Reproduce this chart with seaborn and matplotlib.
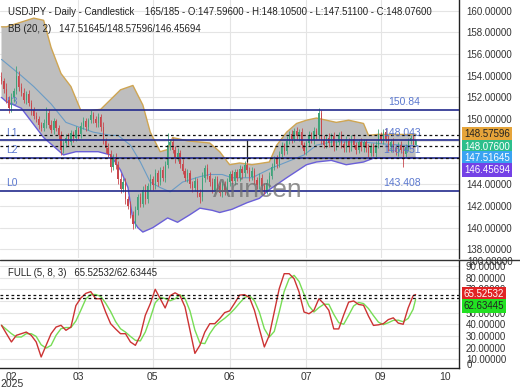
import numpy as np
import pandas as pd
import matplotlib
matplotlib.use("Agg")
import matplotlib.pyplot as plt
from matplotlib.lines import Line2D
import seaborn as sns

sns.set_style("white")
plt.rcParams['font.family'] = ['Liberation Sans', 'DejaVu Sans']

# ---------------- data ----------------
first_open = 153.9
closes = [
 153.5,152.8,151.8,151.0,152.0,152.6,154.0,153.0,152.4,151.8,
 152.3,151.5,150.8,150.3,150.0,149.5,149.2,149.6,150.6,149.5,
 149.0,149.8,149.2,148.5,147.2,147.8,148.3,147.9,148.7,148.3,
 149.0,148.6,149.4,149.8,149.3,149.9,150.4,150.0,149.6,150.2,
 149.3,148.0,147.3,146.8,145.6,146.5,145.8,144.5,143.6,144.2,
 142.6,142.0,141.2,140.3,141.6,142.8,142.2,143.5,142.6,143.8,
 144.5,143.9,145.0,144.2,145.3,144.6,145.8,147.6,147.9,147.2,
 146.4,146.9,145.9,145.2,144.6,145.0,144.0,143.7,144.3,143.2,
 142.8,144.6,145.5,144.8,144.2,143.5,144.5,143.8,143.2,144.0,
 143.3,144.2,144.9,144.3,145.1,144.6,145.4,145.0,145.8,145.3,
 144.7,145.2,144.4,143.9,144.6,143.8,143.4,144.1,144.8,145.6,
 146.3,145.9,146.8,147.5,147.1,148.0,148.6,148.2,148.9,148.4,
 148.8,147.6,147.1,147.8,148.5,148.1,148.9,148.5,150.6,148.1,
 147.6,148.3,147.8,148.4,147.5,147.9,148.5,147.7,147.3,148.0,
 147.4,148.2,147.6,147.2,147.9,147.4,147.9,147.3,146.9,147.5,
 146.9,147.6,148.5,148.1,148.8,148.2,147.4,147.9,147.3,147.0,
 147.6,147.2,146.8,147.4,148.0,148.3,147.596,148.076]
up_wick = [
 0.4,0.3,0.5,0.3,0.4,0.3,0.9,0.4,0.3,0.5,
 0.3,0.4,0.3,0.3,0.4,0.3,0.2,0.4,0.5,0.3,
 0.4,0.3,0.2,0.3,0.4,0.3,0.3,0.4,0.3,0.2,
 0.4,0.3,0.3,0.4,0.3,0.2,0.4,0.3,0.3,0.4,
 0.3,0.4,0.3,0.5,0.4,0.3,0.4,0.3,0.5,0.4,
 0.4,0.3,0.5,0.3,0.4,0.3,0.4,0.3,0.5,0.3,
 0.4,0.3,0.4,0.3,0.3,0.4,0.3,1.1,0.3,0.4,
 0.3,0.4,0.3,0.4,0.3,0.4,0.3,0.3,0.4,0.3,
 0.4,0.5,0.3,0.4,0.3,0.4,0.3,0.3,0.4,0.3,
 0.3,0.4,0.3,0.4,0.3,0.3,0.4,0.3,0.3,0.4,
 0.3,0.4,0.3,0.3,0.4,0.3,0.3,0.4,0.3,0.4,
 0.3,0.4,0.3,0.4,0.3,0.4,0.3,0.4,0.3,0.4,
 0.3,0.4,0.3,0.3,0.4,0.3,0.4,0.3,0.4,0.2,
 0.4,0.3,0.4,0.3,0.4,0.3,0.3,0.4,0.3,0.4,
 0.3,0.3,0.4,0.3,0.3,0.4,0.3,0.3,0.4,0.3,
 0.3,0.4,0.6,0.3,0.3,0.4,0.3,0.3,0.4,0.3,
 0.3,0.4,0.3,0.3,0.3,0.2,0.3,0.03]
down_wick = [
 0.3,0.4,0.3,0.4,0.3,0.4,0.3,0.4,0.3,0.3,
 0.4,0.3,0.4,0.3,0.3,0.4,0.3,0.3,0.4,0.3,
 0.3,0.4,0.3,0.3,0.5,0.3,0.4,0.3,0.3,0.4,
 0.3,0.4,0.3,0.3,0.4,0.3,0.3,0.4,0.3,0.3,
 0.4,0.3,0.4,0.3,0.5,0.3,0.4,0.5,0.4,0.3,
 0.4,0.3,0.3,0.4,0.3,0.4,0.3,0.3,0.4,0.3,
 0.3,0.4,0.3,0.4,0.3,0.3,0.4,0.3,0.4,0.3,
 0.4,0.3,0.4,0.3,0.3,0.4,0.3,0.4,0.3,0.4,
 0.5,0.3,0.4,0.3,0.4,0.3,0.3,0.4,0.3,0.4,
 0.3,0.3,0.4,0.3,0.4,0.3,0.3,0.4,0.3,0.3,
 0.4,0.3,0.4,0.3,0.3,0.4,0.3,0.3,0.4,0.3,
 0.3,0.4,0.3,0.3,0.4,0.3,0.3,0.4,0.3,0.3,
 0.4,0.3,0.3,0.4,0.3,0.3,0.4,0.3,0.3,0.4,
 0.3,0.3,0.4,0.3,0.4,0.3,0.3,0.4,0.3,0.3,
 0.4,0.3,0.3,0.4,0.3,0.3,0.4,0.3,0.4,0.3,
 0.3,0.4,0.3,0.3,0.4,0.3,0.3,0.4,0.3,0.3,
 0.4,0.3,1.2,0.3,0.3,0.3,0.3,0.085]

bb_up_bar = [0,2,13,17,20,24,28,32,36,40,44,48,53,57,60,64,67,69,75,84,88,92,96,101,108,111,115,119,123,127,131,135,140,146,148,152,167]
bb_up = [158.5,158.5,159.3,159.1,156.6,154.2,153.0,150.8,150.8,150.9,151.8,152.7,153.1,151.3,148.8,147.0,147.2,148.3,148.0,147.8,147.0,145.8,145.96,145.8,146.05,147.6,148.8,149.6,149.9,150.1,149.9,149.7,149.9,149.6,148.5,148.6,148.58]
bb_lo_bar = [0,2,8,17,25,30,39,44,48,51,53,55,57,61,67,71,76,80,85,88,93,99,104,108,115,123,127,133,139,146,150,167]
bb_lo = [152.0,151.6,151.0,148.3,146.7,147.0,147.0,146.7,145.3,143.7,140.7,140.0,139.6,140.0,140.9,140.5,141.2,141.8,141.6,141.4,141.7,142.3,142.7,143.5,144.6,145.8,146.05,146.2,145.8,146.05,146.4,146.46]
bb_mid_bar = [0,8,13,20,26,32,37,44,47,52,56,60,64,68,73,80,84,89,93,101,109,115,122,127,133,145,155,167]
bb_mid = [155.5,154.0,153.0,151.4,149.7,149.2,148.8,148.5,148.5,147.6,146.05,144.2,143.7,143.3,144.2,144.7,144.9,144.9,144.6,144.6,145.5,146.05,146.7,147.6,147.9,147.9,147.7,147.52]

stoch_bar = list(range(0, 167, 2)) + [167]
stoch_k = [39.1,31.9,24.8,30.5,31.9,33.3,30.5,24.8,11.9,21.9,
           31.9,37.6,39.1,34.8,37.6,56.0,62.5,66.5,68.0,61.9,
           61.9,50.5,40.5,36.0,31.9,31.9,24.8,21.9,30.5,47.7,
           57.6,70.0,62.0,54.0,64.5,67.0,64.5,55.0,35.0,15.0,
           21.9,33.3,40.5,40.5,44.8,50.0,51.5,58.0,65.0,65.4,
           63.0,52.0,36.0,20.5,30.5,50.5,70.5,83.4,83.4,79.1,
           67.7,50.5,49.0,52.0,61.9,57.6,52.0,36.0,36.0,48.0,
           59.0,60.0,57.0,56.3,47.0,39.0,39.5,40.5,44.0,45.5,
           41.0,40.0,54.0,64.5,65.5]

levels = [150.84, 148.043, 146.451, 143.408]
level_names = ["L3", "L1", "L2", "L0"]
level_texts = ["150.84", "148.043", "146.451", "143.408"]
bb_last = [148.57596, 147.51645, 146.45694]
last_close = 148.076
stoch_last = [65.52532, 62.63445]

tick_bars = [4, 31, 61, 92, 123, 153, 179]
tick_labels = ["02", "03", "05", "06", "07", "09", "10"]
marker_bar = 99
marker_range = (146.05, 148.08)

# ---------------- figure ----------------
W, H = 520, 390
fig = plt.figure(figsize=(5.2, 3.9), dpi=100)
fig.patch.set_facecolor("white")
ax1 = fig.add_axes([0, 1 - 258 / H, 459 / W, 258 / H])
ax2 = fig.add_axes([0, 1 - 368 / H, 459 / W, 108 / H])

def px(x, y):
    return x / W, 1 - y / H

xlim = (-0.6, 184.5)
grid_c = "#e4e4e4"

# --- main panel ---
ax1.set_xlim(*xlim)
ax1.set_ylim(137.21, 160.97)
ax1.set_yticks(np.arange(138, 161, 2))
ax1.set_yticklabels([f"{v:.5f}" for v in np.arange(138, 161, 2)])
ax1.yaxis.tick_right()
ax1.tick_params(axis="y", length=0, pad=5, labelsize=7, labelcolor="#333333")
ax1.set_xticks([])
ax1.grid(axis="y", color=grid_c, lw=0.8, zorder=0)
for b in tick_bars[1:-1]:
    ax1.axvline(b, color=grid_c, lw=0.8, zorder=0)
for s in ["left", "top", "bottom"]:
    ax1.spines[s].set_visible(False)
ax1.spines["right"].set_color("#222222")
ax1.spines["right"].set_linewidth(1.0)

# Bollinger band
poly_x = np.r_[bb_up_bar, bb_lo_bar[::-1]]
poly_y = np.r_[bb_up, bb_lo[::-1]]
ax1.fill(poly_x, poly_y, color="#bebebe", lw=0, zorder=1)
sns.lineplot(x=bb_up_bar, y=bb_up, ax=ax1, color="#cfa552", lw=1.0, zorder=2)
sns.lineplot(x=bb_lo_bar, y=bb_lo, ax=ax1, color="#6a5fd8", lw=1.0, zorder=2)
sns.lineplot(x=bb_mid_bar, y=bb_mid, ax=ax1, color="#6a9cc6", lw=0.8, zorder=2)

# candles
c = np.array(closes)
o = np.r_[first_open, c[:-1]]
hi = np.maximum(o, c) + np.array(up_wick)
lo = np.minimum(o, c) - np.array(down_wick)
xb = np.arange(len(c))
cols = np.where(c >= o, "#3fa37a", "#c8474d")
ax1.vlines(xb, lo, hi, colors=cols, lw=0.6, zorder=3)
ax1.bar(xb, np.maximum(np.abs(c - o), 0.06), bottom=np.minimum(o, c), width=0.5,
        color=cols, lw=0, zorder=3)
ax1.vlines(marker_bar, marker_range[0], marker_range[1], colors="#222222", lw=0.9, zorder=4)

# levels
for lv in levels:
    ax1.axhline(lv, color="#232a8c", lw=1.2, zorder=4)
for v in bb_last:
    ax1.axhline(v, color="#111111", lw=0.9, ls=(0, (2.2, 2.2)), zorder=4)
lvl_c = "#5b78cf"
for lv, nm, lt in zip(levels, level_names, level_texts):
    ax1.text(2, lv + 0.25, nm, color=lvl_c, fontsize=7.5, va="bottom", ha="left", zorder=2)
    ax1.text(169, lv + 0.25, lt, color=lvl_c, fontsize=7.5, va="bottom", ha="right", zorder=5)

# watermark
fig.text(*px(258, 190), "Arincen", fontsize=19, color="#6e6e6e", alpha=0.75,
         ha="center", va="center", zorder=6)

# header texts
fig.text(*px(8, 12), "USDJPY - Daily - Candlestick    165/185 - O:147.59600 - H:148.10500 - L:147.51100 - C:148.07600",
         fontsize=6.9, color="#222222", va="center", ha="left")
fig.text(*px(8, 29), "BB (20, 2)   147.51645/148.57596/146.45694",
         fontsize=6.9, color="#222222", va="center", ha="left")

# right value boxes (main)
boxes = [(134, f"{bb_last[0]:.5f}", "#e5a43a", "#222222"),
         (146.5, f"{last_close:.5f}", "#2cbf8c", "white"),
         (158, f"{bb_last[1]:.5f}", "#3aa3f2", "white"),
         (170, f"{bb_last[2]:.5f}", "#7441e6", "white")]
for yy, t, fc, tc in boxes:
    fig.text(*px(464, yy), t, fontsize=7, color=tc, va="center", ha="left",
             bbox=dict(boxstyle="square,pad=0.18", fc=fc, ec="none"))

# --- stochastic panel ---
ax2.set_xlim(*xlim)
ax2.set_ylim(2.45, 95.15)
ax2.set_yticks(np.arange(10, 91, 10))
ax2.set_yticklabels([f"{v:.5f}" for v in np.arange(10, 91, 10)])
ax2.yaxis.tick_right()
ax2.tick_params(axis="y", length=0, pad=5, labelsize=7, labelcolor="#333333")
ax2.set_xticks(tick_bars)
ax2.set_xticklabels(tick_labels)
ax2.tick_params(axis="x", length=0, pad=3, labelsize=7.5, labelcolor="#333333")
ax2.grid(axis="y", color=grid_c, lw=0.8, zorder=0)
for b in tick_bars[1:-1]:
    ax2.axvline(b, color=grid_c, lw=0.8, zorder=0)
ax2.spines["left"].set_visible(False)
ax2.spines["top"].set_visible(False)
for s in ["right", "bottom"]:
    ax2.spines[s].set_color("#222222")
    ax2.spines[s].set_linewidth(1.0)

k = pd.Series(stoch_k)
d = k.rolling(3, min_periods=1).mean()
sns.lineplot(x=stoch_bar, y=d.values, ax=ax2, color="#77dd55", lw=1.0, zorder=3)
sns.lineplot(x=stoch_bar, y=k.values, ax=ax2, color="#cc3333", lw=1.0, zorder=4)
for v in stoch_last:
    ax2.axhline(v, color="#111111", lw=0.9, ls=(0, (2.2, 2.2)), zorder=5)

fig.text(*px(8, 273), "FULL (5, 8, 3)   65.52532/62.63445",
         fontsize=6.9, color="#222222", va="center", ha="left")
fig.text(*px(467, 262), "100.00000", fontsize=7, color="#333333", va="center", ha="left")
fig.text(*px(467, 365), "0", fontsize=7, color="#333333", va="center", ha="left")
fig.text(*px(464, 294), f"{stoch_last[0]:.5f}", fontsize=7, color="white", va="center", ha="left",
         bbox=dict(boxstyle="square,pad=0.18", fc="#e02424", ec="none"))
fig.text(*px(464, 306), f"{stoch_last[1]:.5f}", fontsize=7, color="#222222", va="center", ha="left",
         bbox=dict(boxstyle="square,pad=0.18", fc="#22e022", ec="none"))
fig.text(*px(12, 384), "2025", fontsize=7.5, color="#333333", va="center", ha="center")

# panel separator
fig.add_artist(Line2D([0, 1], [1 - 260 / H] * 2, color="#333333", lw=1.0))

fig.savefig("out.png", dpi=100, facecolor="white")
